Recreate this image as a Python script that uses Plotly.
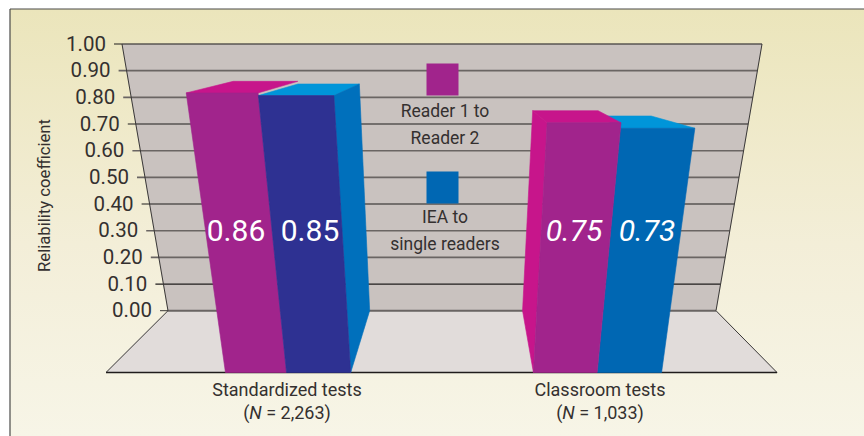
import plotly.graph_objects as go

# ---- data ----
categories = ["Standardized tests<br>(<i>N</i> = 2,263)", "Classroom tests<br>(<i>N</i> = 1,033)"]
reader_values = [0.86, 0.75]
iea_values = [0.85, 0.73]
value_labels_reader = ["0.86", "<i>0.75</i>"]
value_labels_iea = ["0.85", "<i>0.73</i>"]
tick_values = [1.0, 0.9, 0.8, 0.7, 0.6, 0.5, 0.4, 0.3, 0.2, 0.1, 0.0]
tick_labels = ["1.00", "0.90", "0.80", "0.70", "0.60", "0.50", "0.40", "0.30", "0.20", "0.10", "0.00"]
series_lines = ["Reader 1 to", "Reader 2", "IEA to", "single readers"]

# ---- bar edges across the floor (0..1 of floor width), at the front and at the wall ----
front_edges_left = [0.178, 0.269, 0.3647]
back_edges_left = [0.167, 0.27, 0.368]
front_edges_right = [0.637, 0.732, 0.828]
back_edges_right = [0.647, 0.753, 0.84]

FONT = "Roboto"
TXT = "#34302f"
MAGENTA = "#a1248c"
HOT = "#c7158b"
NAVY = "#2e3192"
BLUE = "#0067b3"
CYAN = "#0095d9"
MIDBLUE = "#0070bc"


# ---- perspective: v = value, u = across, plane = back wall or front edge ----
def v_of_px(py):
    return (310.7 - py) / 266.7


def back(u, v):
    left = 168 - 46 * v
    width = 548 + 92 * v
    return left + u * width, v


def front(u, v):
    w = 1 + 0.268 * v
    left = (106 - 58 * v) / w
    width = (671 + 350 * v) / w
    py = 372.5 - 400 * v / w
    return left + u * width, v_of_px(py)


traces = []


def poly(points, color, line=None):
    xs = [p[0] for p in points] + [points[0][0]]
    ys = [p[1] for p in points] + [points[0][1]]
    traces.append(go.Scatter(x=xs, y=ys, mode="lines", fill="toself", fillcolor=color,
                             line=dict(color=line or color, width=0.6),
                             hoverinfo="skip", showlegend=False))


def seg(p, q, color, width):
    traces.append(go.Scatter(x=[p[0], q[0]], y=[p[1], q[1]], mode="lines",
                             line=dict(color=color, width=width),
                             hoverinfo="skip", showlegend=False))


def label(x, y, texts, size, color=TXT, pos="middle center"):
    traces.append(go.Scatter(x=x, y=y, mode="text", text=texts, textposition=pos,
                             textfont=dict(family=FONT, size=size, color=color),
                             hoverinfo="skip", showlegend=False))


# panel with vertical gradient
py_top, py_bot = v_of_px(9), v_of_px(436)
traces.append(go.Scatter(x=[10, 864, 864, 10, 10], y=[py_top, py_top, py_bot, py_bot, py_top],
                         mode="lines", fill="toself", line=dict(width=0),
                         fillgradient=dict(type="vertical",
                                           colorscale=[[0, "#f7f5e7"], [0.45, "#f3eed8"], [1, "#ebe5bb"]]),
                         hoverinfo="skip", showlegend=False))
seg((10, py_top), (864, py_top), "#4a4a48", 1.2)
seg((10, py_top), (10, py_bot), "#4a4a48", 1.2)

# floor and wall
poly([back(0, 0), back(1, 0), front(1, 0), front(0, 0)], "#e1dcda")
poly([back(0, 0), back(1, 0), back(1, 1), back(0, 1)], "#c9c2bf")

# grid lines with their tick stubs
for i, t in enumerate(tick_values):
    a, b = back(0, t), back(1, t)
    dark = i % 3 == 0
    if t == 0:
        seg((a[0] - 8, t), (a[0], t), "#3a3837", 1)
        seg(a, b, "#6a6563", 2)
    else:
        seg((a[0] - 8, t), b, "#1f1c1c" if dark else "#6a6563", 1.2 if dark else 1.6)

# wall and floor edges
seg(back(0, 0), back(0, 1), "#3a3837", 1)
seg(back(1, 0), back(1, 1), "#3a3837", 1)
seg(back(0, 0), front(0, 0), "#3a3837", 1)
seg(back(1, 0), front(1, 0), "#3a3837", 1)
seg(front(0, 0), front(1, 0), "#1f1c1c", 1.3)

# tick labels follow the slanted wall edge
label([back(0, t)[0] - 16 for t in tick_values], [t - 1.5 / 266.7 for t in tick_values],
      tick_labels, 20.5, pos="middle left")

# Left group: right-hand sides are visible
fa, fb, fc = front_edges_left
ba, bb, bc = back_edges_left
r, n = reader_values[0], iea_values[0]
poly([front(fb, n), front(fc, n), back(bc, n), back(bb, n)], CYAN)
poly([front(fa, r), front(fb, r), back(bb, r), back(ba, r)], HOT)
poly([front(fc, 0), front(fc, n), back(bc, n), back(bc, 0)], MIDBLUE)
poly([front(fa, 0), front(fb, 0), front(fb, r), front(fa, r)], MAGENTA)
poly([front(fb, 0), front(fc, 0), front(fc, n), front(fb, n)], NAVY)

# Right group: left-hand side is visible
fa, fb, fc = front_edges_right
ba, bb, bc = back_edges_right
r, n = reader_values[1], iea_values[1]
poly([front(fb, n), front(fc, n), back(bc, n), back(bb, n)], CYAN)
poly([front(fb, 0), front(fc, 0), front(fc, n), front(fb, n)], BLUE)
poly([front(fa, r), front(fb, r), back(bb, r), back(ba, r)], HOT)
poly([front(fa, 0), front(fa, r), back(ba, r), back(ba, 0)], HOT)
poly([front(fa, 0), front(fb, 0), front(fb, r), front(fa, r)], MAGENTA)

# value labels inside the bars
vy = v_of_px(233.5)
label([236, 310, 574, 647], [vy] * 4,
      [value_labels_reader[0], value_labels_iea[0], value_labels_reader[1], value_labels_iea[1]],
      30, color="white")

# legend keys
traces.append(go.Scatter(x=[442.5], y=[v_of_px(79.5)], mode="markers", name="Reader 1 to Reader 2",
                         marker=dict(symbol="square", size=32, color=MAGENTA, line=dict(width=0)),
                         hoverinfo="skip", showlegend=False))
traces.append(go.Scatter(x=[442.5], y=[v_of_px(187.5)], mode="markers", name="IEA to single readers",
                         marker=dict(symbol="square", size=32, color=BLUE, line=dict(width=0)),
                         hoverinfo="skip", showlegend=False))
label([445] * 4, [v_of_px(p) for p in (113, 139.5, 219, 245.5)], series_lines, 17.5)

# category labels
label([287, 600], [v_of_px(403)] * 2, categories, 18)

fig = go.Figure(traces)
fig.update_layout(
    width=864, height=436, margin=dict(l=0, r=0, t=0, b=0),
    paper_bgcolor="white", plot_bgcolor="white", showlegend=False,
    xaxis=dict(range=[0, 864], visible=False, fixedrange=True),
    yaxis=dict(range=[v_of_px(436), v_of_px(0)], visible=False, fixedrange=True),
    annotations=[dict(x=44, y=v_of_px(196), xref="x", yref="y", text="Reliability coefficient",
                      textangle=-90, showarrow=False, xanchor="center", yanchor="middle",
                      font=dict(family=FONT, size=16.7, color=TXT))],
)
fig.write_html("out.html", config={"displayModeBar": False},
               post_script="document.body.style.margin='0';document.documentElement.style.overflow='hidden';")
